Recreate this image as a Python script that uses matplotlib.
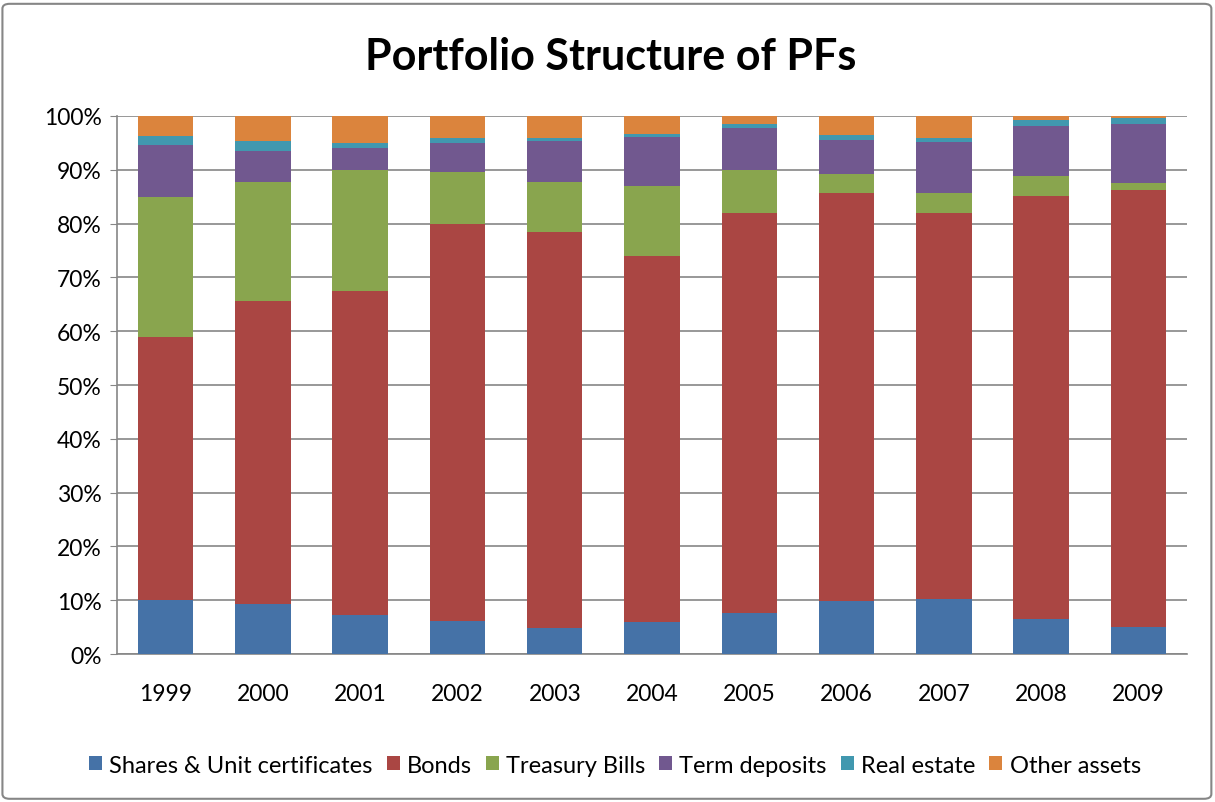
import numpy as np
import matplotlib
matplotlib.use("Agg")
import matplotlib.pyplot as plt
from matplotlib.patches import FancyBboxPatch

plt.rcParams['font.family'] = ['Lato', 'DejaVu Sans']

years = ['1999', '2000', '2001', '2002', '2003', '2004', '2005', '2006', '2007', '2008', '2009']
series = ['Shares & Unit certificates', 'Bonds', 'Treasury Bills', 'Term deposits', 'Real estate', 'Other assets']

# share of portfolio, %
shares = [10.0, 9.3, 7.2, 6.2, 4.8, 5.9, 7.7, 9.9, 10.3, 6.5, 5.1]
bonds = [48.9, 56.3, 60.3, 73.8, 73.7, 68.1, 74.3, 75.7, 71.7, 78.7, 81.2]
tbills = [26.0, 22.2, 22.4, 9.6, 9.3, 12.9, 7.9, 3.6, 3.6, 3.6, 1.2]
deposits = [9.8, 5.7, 4.1, 5.3, 7.6, 9.2, 7.8, 6.4, 9.5, 9.4, 11.1]
estate = [1.6, 1.9, 0.9, 1.0, 0.6, 0.5, 0.8, 0.9, 0.9, 1.0, 1.0]
other = [3.7, 4.6, 5.1, 4.1, 4.0, 3.4, 1.5, 3.5, 4.0, 0.8, 0.4]

colors = ['#4572A7', '#AA4643', '#89A54E', '#71588F', '#4198AF', '#DB843D']

data = np.array([shares, bonds, tbills, deposits, estate, other])
data = data / data.sum(axis=0) * 100  # 100% stacked

fig = plt.figure(figsize=(12.15, 8.03), dpi=100)
ax = fig.add_axes([0.0963, 0.1843, 0.8807, 0.67])

x = np.arange(len(years))
bottom = np.zeros(len(years))
for vals, name, c in zip(data, series, colors):
    ax.bar(x, vals, 0.57, bottom=bottom, color=c, label=name, zorder=3)
    bottom += vals

ax.set_xlim(-0.5, len(years) - 0.5)
ax.set_ylim(0, 100)
ax.set_yticks(np.arange(0, 101, 10))
ax.set_yticklabels(['%d%%' % v for v in range(0, 101, 10)])
ax.set_xticks(x)
ax.set_xticklabels(years)
ax.yaxis.grid(True, color='#868686', linewidth=1.2, zorder=0)
for s in ['top', 'right']:
    ax.spines[s].set_visible(False)
for s in ['left', 'bottom']:
    ax.spines[s].set_color('#868686')
    ax.spines[s].set_linewidth(1.2)
ax.tick_params(axis='y', labelsize=16.5, length=5, color='#868686', pad=6)
ax.tick_params(axis='x', labelsize=16.5, length=0, pad=21)

fig.text(0.503, 0.929, 'Portfolio Structure of PFs', fontsize=31, fontweight='bold',
         ha='center', va='center')

fig.legend(*ax.get_legend_handles_labels(), loc='center', bbox_to_anchor=(0.506, 0.046),
           ncol=6, frameon=False, fontsize=17, handlelength=0.55, handleheight=0.55,
           handletextpad=0.3, columnspacing=0.6)

# chart area border
fig.patches.append(FancyBboxPatch((0.002, 0.004), 0.995, 0.99, boxstyle='round,pad=0,rounding_size=0.006',
                                  transform=fig.transFigure, fill=False, edgecolor='#868686', linewidth=1.5))

fig.savefig('out.png', dpi=100)
